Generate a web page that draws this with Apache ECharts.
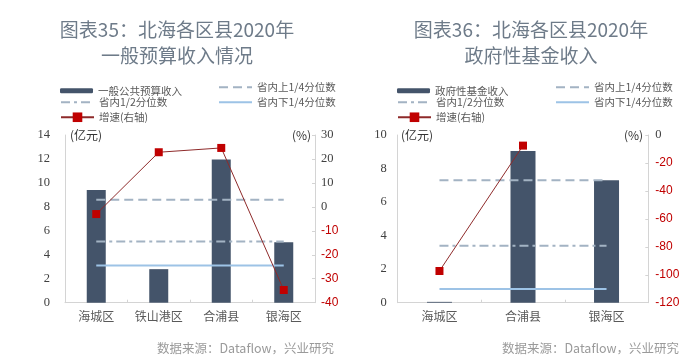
<!DOCTYPE html>
<html>
<head>
<meta charset="utf-8">
<script src="https://cdn.jsdelivr.net/npm/echarts@6/dist/echarts.min.js"></script>
<style>html,body{margin:0;padding:0;background:#fff;}#c{width:700px;height:363px;}</style>
</head>
<body>
<div id="c"></div>
<script>
// ---- Chart 35 data ----
const cats1 = ['海城区', '铁山港区', '合浦县', '银海区'];
const budget1 = [9.4, 2.8, 11.95, 5.05];
const growth1 = [-3.0, 22.8, 24.6, -34.7];
const upperQ1 = [8.6, 8.6, 8.6, 8.6];
const medianQ1 = [5.1, 5.1, 5.1, 5.1];
const lowerQ1 = [3.1, 3.1, 3.1, 3.1];
// ---- Chart 36 data ----
const cats2 = ['海城区', '合浦县', '银海区'];
const fund2 = [0.05, 9.05, 7.3];
const growth2 = [-97.3, -7.6, '-'];
const upperQ2 = [7.3, 7.3, 7.3];
const medianQ2 = [3.4, 3.4, 3.4];
const lowerQ2 = [0.82, 0.82, 0.82];

const C_BAR = '#44546a';
const C_Q = '#a3b3c3';
const C_LOW = '#9dc3e6';
const C_GL = '#8e2a2a';
const C_GM = '#c00000';
const AX = '#d4d4d4';

const chart = echarts.init(document.getElementById('c'), null, {renderer: 'canvas'});

function catAxis(gi, data) {
  return {
    type: 'category', gridIndex: gi, data: data,
    axisLine: {lineStyle: {color: AX}},
    axisTick: {show: true, inside: true, length: 3, lineStyle: {color: AX}},
    axisLabel: {color: '#595959', fontFamily: 'Noto Sans CJK SC', fontSize: 12, margin: 8}
  };
}
function leftAxis(gi, max, interval, margin) {
  return {
    type: 'value', gridIndex: gi, min: 0, max: max, interval: interval, position: 'left',
    splitLine: {show: false},
    axisLine: {show: true, lineStyle: {color: AX}},
    axisTick: {show: false},
    axisLabel: {color: '#404040', fontFamily: 'Liberation Serif', fontSize: 12.5, margin: margin}
  };
}
function rightAxis(gi, min, max, interval, margin) {
  return {
    type: 'value', gridIndex: gi, min: min, max: max, interval: interval, position: 'right',
    splitLine: {show: false},
    axisLine: {show: true, lineStyle: {color: AX}},
    axisTick: {show: true, inside: true, length: 3, lineStyle: {color: AX}},
    axisLabel: {
      margin: margin,
      formatter: function (v) { return v < 0 ? '{n|' + v + '}' : '{p|' + v + '}'; },
      rich: {
        n: {color: '#c00000', fontFamily: 'Liberation Sans', fontSize: 12},
        p: {color: '#404040', fontFamily: 'Liberation Serif', fontSize: 12.5}
      }
    }
  };
}
function qSeries(name, xi, yi, data, type, color) {
  return {
    name: name, type: 'line', xAxisIndex: xi, yAxisIndex: yi, data: data,
    symbol: 'none', z: 3, silent: true,
    lineStyle: {color: color, width: 2, type: type},
    itemStyle: {color: color}
  };
}
function gSeries(xi, yi, data) {
  return {
    name: '增速(右轴)', type: 'line', xAxisIndex: xi, yAxisIndex: yi, data: data,
    symbol: 'rect', symbolSize: 8, z: 5,
    lineStyle: {color: C_GL, width: 1},
    itemStyle: {color: C_GM}
  };
}
const dashDot = [9, 4, 3, 4];
const dashed = [9, 5];

function lg(name, left, top, ih, hideSymbol) {
  const o = {
    data: [name], left: left, top: top, orient: 'vertical',
    itemWidth: 33, itemHeight: ih, itemGap: 0, padding: 0, selectedMode: false,
    textStyle: {color: '#595959', fontFamily: 'Noto Sans CJK SC', fontSize: 10.5, padding: [0, 0, 0, 0]}
  };
  if (hideSymbol) o.itemStyle = {opacity: 0};
  return o;
}

const legends = [
  lg('一般公共预算收入', 60, 85.5, 5),
  lg('省内1/2分位数', 60, 97, 12, true),
  lg('增速(右轴)', 60, 112, 12),
  lg('省内上1/4分位数', 218, 82, 12, true),
  lg('省内下1/4分位数', 218, 97, 12, true),
  lg('政府性基金收入', 397, 85.5, 5),
  lg('省内1/2分位数', 397, 97, 12, true),
  lg('增速(右轴)', 397, 112, 12),
  lg('省内上1/4分位数', 555, 82, 12, true),
  lg('省内下1/4分位数', 555, 97, 12, true)
];

const titleStyle = {fill: '#6e7b89', font: '400 19px "Noto Sans CJK SC"', textAlign: 'center', textVerticalAlign: 'middle'};
function gText(x, y, text, style) {
  return {type: 'text', x: x, y: y, silent: true, style: Object.assign({text: text}, style)};
}
const unitStyle = {fill: '#333', font: '12px "Noto Sans CJK SC"', textVerticalAlign: 'middle'};
const srcStyle = {fill: '#9a9a9a', font: '12.5px "Noto Sans CJK SC"', textVerticalAlign: 'middle'};

chart.setOption({
  animation: false,
  grid: [
    {left: 65, right: 385, top: 135, bottom: 60.3},
    {left: 397.7, right: 51.7, top: 135, bottom: 60.3}
  ],
  legend: legends,
  xAxis: [catAxis(0, cats1), catAxis(1, cats2)],
  yAxis: [
    leftAxis(0, 14, 2, 15),
    rightAxis(0, -40, 30, 10, 6),
    leftAxis(1, 10, 2, 11),
    rightAxis(1, -120, 0, 20, 7)
  ],
  series: [
    {name: '一般公共预算收入', type: 'bar', xAxisIndex: 0, yAxisIndex: 0, data: budget1, barWidth: 19, itemStyle: {color: C_BAR}, z: 2},
    qSeries('省内上1/4分位数', 0, 0, upperQ1, dashed, C_Q),
    qSeries('省内1/2分位数', 0, 0, medianQ1, dashDot, C_Q),
    qSeries('省内下1/4分位数', 0, 0, lowerQ1, 'solid', C_LOW),
    gSeries(0, 1, growth1),
    {name: '政府性基金收入', type: 'bar', xAxisIndex: 1, yAxisIndex: 2, data: fund2, barWidth: 25, itemStyle: {color: C_BAR}, z: 2},
    qSeries('省内上1/4分位数', 1, 2, upperQ2, dashed, C_Q),
    qSeries('省内1/2分位数', 1, 2, medianQ2, dashDot, C_Q),
    qSeries('省内下1/4分位数', 1, 2, lowerQ2, 'solid', C_LOW),
    gSeries(1, 3, growth2)
  ],
  graphic: [
    gText(177, 30, '图表35：北海各区县2020年', titleStyle),
    gText(177, 56, '一般预算收入情况', titleStyle),
    gText(531, 30, '图表36：北海各区县2020年', titleStyle),
    gText(531, 56, '政府性基金收入', titleStyle),
    gText(70, 135, '(亿元)', unitStyle),
    gText(292, 135, '(%)', unitStyle),
    gText(401, 135, '(亿元)', unitStyle),
    gText(624, 135, '(%)', unitStyle),
    gText(157, 348, '数据来源：Dataflow，兴业研究', srcStyle),
    gText(502, 348, '数据来源：Dataflow，兴业研究', srcStyle)
  ]
});
</script>
</body>
</html>
